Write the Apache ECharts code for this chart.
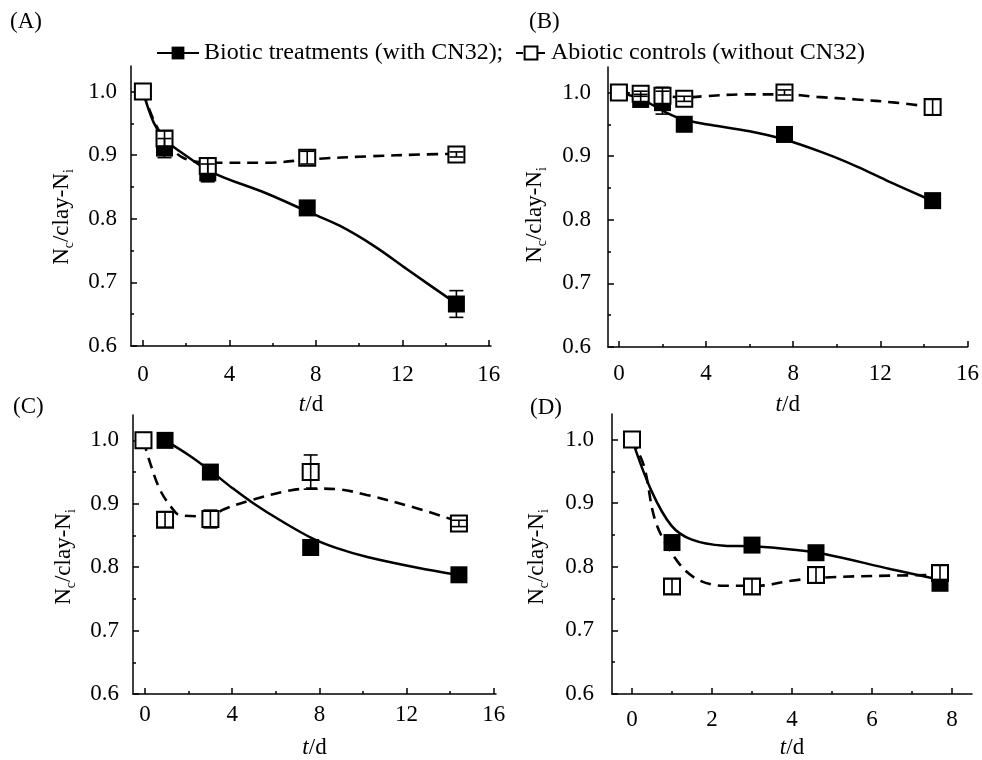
<!DOCTYPE html>
<html>
<head>
<meta charset="utf-8">
<script src="https://cdn.jsdelivr.net/npm/echarts@6/dist/echarts.min.js"></script>
<style>html,body{margin:0;padding:0;background:#fff}#c{width:982px;height:760px}</style>
</head>
<body>
<div id="c"></div>
<script>
// ---------- tick labels ----------
const xTicks16 = [0, 4, 8, 12, 16];
const xMinor16 = [2, 6, 10, 14];
const xTicks8 = [0, 2, 4, 6, 8];
const xMinor8 = [1, 3, 5, 7];
const yTicks = [0.6, 0.7, 0.8, 0.9, 1.0];
const yMinor = [0.65, 0.75, 0.85, 0.95];
const panelLabels = ['(A)', '(B)', '(C)', '(D)'];
const legendNames = ['Biotic treatments (with CN32);', 'Abiotic controls (without CN32)'];

// ---------- panel A ----------
const tA = [0, 1, 3, 7.6, 14.5];
const bioA = [1.0, 0.911, 0.872, 0.817, 0.666];
const bioAErr = [0, 0.015, 0.014, 0.008, 0.021];
const abioA = [1.0, 0.926, 0.883, 0.896, 0.901];
const abioAErr = [0, 0.012, 0.012, 0.01, 0.004];
const fitBioA = [[0,1.0],[0.5,0.951],[1,0.925],[1.7,0.906],[3.2,0.873],[5.7,0.84],[7.7,0.81],[9.1,0.789],[10.7,0.757],[12.2,0.721],[14.1,0.676],[14.5,0.667]];
const fitAbioA = [[0,1.0],[0.5,0.955],[1,0.925],[1.9,0.895],[3.4,0.888],[5.7,0.888],[8,0.894],[10.4,0.898],[13,0.901],[14.5,0.902]];

// ---------- panel B ----------
const tB = [0, 1, 2, 3, 7.6, 14.4];
const bioB = [1.0, 0.989, 0.984, 0.95, 0.934, 0.83];
const bioBErr = [0, 0.008, 0.018, 0.008, 0.006, 0.008];
const abioB = [1.0, 0.998, 0.995, 0.99, 1.0, 0.977];
const abioBErr = [0, 0.004, 0.013, 0.004, 0.004, 0.012];
const fitBioB = [[0,1.0],[1,0.99],[2.2,0.968],[3,0.957],[4,0.95],[6,0.939],[7.6,0.926],[9.4,0.905],[10.9,0.884],[12.4,0.86],[14.3,0.831]];
const fitAbioB = [[0,1.0],[2,0.995],[3,0.992],[3.9,0.994],[5.7,0.997],[7.6,0.997],[9.1,0.993],[10.9,0.989],[12.7,0.984],[14.4,0.977]];

// ---------- panel C ----------
const tC = [-0.07, 0.92, 3, 7.6, 14.4];
const bioC = [1.0, 1.0, 0.95, 0.831, 0.788];
const bioCErr = [0, 0.005, 0.008, 0.01, 0.006];
const abioC = [1.0, 0.875, 0.876, 0.95, 0.869];
const abioCErr = [0, 0.012, 0.014, 0.027, 0.005];
const fitBioC = [[0.92,1.0],[2,0.977],[3,0.952],[4,0.925],[5,0.9],[6.2,0.874],[7.7,0.845],[8.8,0.83],[10.2,0.816],[12.5,0.799],[14.3,0.788]];
const fitAbioC = [[-0.07,1.0],[0.23,0.965],[0.69,0.922],[1.22,0.894],[1.6,0.882],[3,0.88],[3.6,0.891],[4.8,0.905],[6.65,0.921],[7.6,0.924],[8.8,0.923],[10.17,0.914],[12.46,0.893],[14.37,0.872]];

// ---------- panel D ----------
const tD = [0, 1, 3, 4.6, 7.7];
const bioD = [1.0, 0.838, 0.834, 0.822, 0.774];
const bioDErr = [0, 0.008, 0.006, 0.006, 0.006];
const abioD = [1.0, 0.769, 0.769, 0.787, 0.79];
const abioDErr = [0, 0.012, 0.012, 0.012, 0.012];
const fitBioD = [[0,1.0],[0.48,0.92],[0.98,0.865],[1.48,0.843],[2.31,0.833],[3,0.832],[3.98,0.827],[4.81,0.82],[6.48,0.796],[7.81,0.778]];
const fitAbioD = [[0,1.0],[0.3,0.958],[0.6,0.869],[1.14,0.808],[1.64,0.78],[2.31,0.77],[3.14,0.77],[3.98,0.778],[4.8,0.783],[6.48,0.786],[7.73,0.787]];

// ---------- layout ----------
const FONT = 'Liberation Serif';
const FS = 23;
const panels = [
  {grid:{left:131, top:66, width:360, height:280}, xmin:-0.55, xmax:16.1, xt:xTicks16, xm:xMinor16, lblM:17, nameGap:47, ylblM:14,
   t:tA, bio:bioA, bioE:bioAErr, abio:abioA, abioE:abioAErr, fb:fitBioA, fa:fitAbioA, lab:[10,22], yname:[62,217]},
  {grid:{left:608, top:67, width:361, height:280}, xmin:-0.5, xmax:16, xt:xTicks16, xm:xMinor16, lblM:15, nameGap:46, ylblM:17,
   t:tB, bio:bioB, bioE:bioBErr, abio:abioB, abioE:abioBErr, fb:fitBioB, fa:fitAbioB, lab:[529,22], yname:[535,215]},
  {grid:{left:133, top:415, width:363, height:280}, xmin:-0.55, xmax:16.1, xt:xTicks16, xm:xMinor16, lblM:9, nameGap:42, ylblM:14,
   t:tC, bio:bioC, bioE:bioCErr, abio:abioC, abioE:abioCErr, fb:fitBioC, fa:fitAbioC, lab:[13,407], yname:[64,557]},
  {grid:{left:612, top:414, width:360, height:281}, xmin:-0.5, xmax:8.5, xt:xTicks8, xm:xMinor8, lblM:14, nameGap:42, ylblM:18,
   t:tD, bio:bioD, bioE:bioDErr, abio:abioD, abioE:abioDErr, fb:fitBioD, fa:fitAbioD, lab:[530,408], yname:[537,557]}
];

const axisLineStyle = {color:'#000', width:1.5};
const grids = [], xAxes = [], yAxes = [], series = [], graphics = [];

panels.forEach((p, g) => {
  grids.push(Object.assign({containLabel:false}, p.grid));
  xAxes.push({
    type:'value', gridIndex:g, min:p.xmin, max:p.xmax, position:'bottom',
    splitLine:{show:false},
    axisLine:{show:true, onZero:false, lineStyle:axisLineStyle},
    axisTick:{show:true, inside:true, length:6, customValues:p.xt, lineStyle:{color:'#000', width:1.5}},
    axisLabel:{show:true, customValues:p.xt, margin:p.lblM, color:'#000', fontSize:FS, fontFamily:FONT},
    name:'{i|t}/d', nameLocation:'middle', nameGap:p.nameGap,
    nameTextStyle:{color:'#000', fontSize:FS, fontFamily:FONT, rich:{i:{fontStyle:'italic', fontSize:FS, fontFamily:FONT, color:'#000'}}}
  });
  xAxes.push({
    type:'value', gridIndex:g, min:p.xmin, max:p.xmax, position:'bottom',
    splitLine:{show:false}, axisLine:{show:false, onZero:false},
    axisTick:{show:true, inside:true, length:3, customValues:p.xm, lineStyle:{color:'#000', width:1.5}},
    axisLabel:{show:false}
  });
  yAxes.push({
    type:'value', gridIndex:g, min:0.6, max:1.04, position:'left',
    splitLine:{show:false},
    axisLine:{show:true, onZero:false, lineStyle:axisLineStyle},
    axisTick:{show:true, inside:true, length:6, customValues:yTicks, lineStyle:{color:'#000', width:1.5}},
    axisLabel:{show:true, customValues:yTicks, margin:p.ylblM, color:'#000', fontSize:FS, fontFamily:FONT,
      formatter:v => v.toFixed(1)}
  });
  yAxes.push({
    type:'value', gridIndex:g, min:0.6, max:1.04, position:'left',
    splitLine:{show:false}, axisLine:{show:false, onZero:false},
    axisTick:{show:true, inside:true, length:3, customValues:yMinor, lineStyle:{color:'#000', width:1.5}},
    axisLabel:{show:false}
  });

  const xi = 2*g, yi = 2*g;
  series.push({type:'line', xAxisIndex:xi, yAxisIndex:yi, data:p.fb, smooth:0.35, showSymbol:false, symbol:'none',
    silent:true, z:2, lineStyle:{color:'#000', width:2.5}});
  series.push({type:'line', xAxisIndex:xi, yAxisIndex:yi, data:p.fa, smooth:0.35, showSymbol:false, symbol:'none',
    silent:true, z:2, lineStyle:{color:'#000', width:2.6, type:[11,7]}});
  series.push({type:'scatter', xAxisIndex:xi, yAxisIndex:yi, symbol:'rect', symbolSize:17, silent:true, z:3,
    data:p.t.map((x,i)=>[x, p.bio[i]]), itemStyle:{color:'#000', opacity:1}});
  series.push({type:'scatter', xAxisIndex:xi, yAxisIndex:yi, symbol:'rect', symbolSize:16, silent:true, z:4,
    data:p.t.map((x,i)=>[x, p.abio[i]]), itemStyle:{color:'#fff', borderColor:'#000', borderWidth:2, opacity:1}});
  const errRender = (params, api) => {
    const x = api.value(0), y = api.value(1), e = api.value(2);
    if (!e) return null;
    const top = api.coord([x, y + e]), bot = api.coord([x, y - e]);
    const w = 7, st = {stroke:'#000', lineWidth:1.6};
    return {type:'group', children:[
      {type:'line', shape:{x1:top[0], y1:top[1], x2:bot[0], y2:bot[1]}, style:st},
      {type:'line', shape:{x1:top[0]-w, y1:top[1], x2:top[0]+w, y2:top[1]}, style:st},
      {type:'line', shape:{x1:bot[0]-w, y1:bot[1], x2:bot[0]+w, y2:bot[1]}, style:st}
    ]};
  };
  series.push({type:'custom', xAxisIndex:xi, yAxisIndex:yi, silent:true, z:5, renderItem:errRender,
    data:p.t.map((x,i)=>[x, p.bio[i], p.bioE[i]])});
  series.push({type:'custom', xAxisIndex:xi, yAxisIndex:yi, silent:true, z:5, renderItem:errRender,
    data:p.t.map((x,i)=>[x, p.abio[i], p.abioE[i]])});

  graphics.push({type:'text', x:p.lab[0], y:p.lab[1], style:{text:panelLabels[g], fill:'#000',
    font:FS + 'px "' + FONT + '"', verticalAlign:'middle', align:'left'}});
  graphics.push({type:'text', x:p.yname[0], y:p.yname[1], rotation:Math.PI/2, style:{
    text:'{m|N}{s|c}{m|/clay-N}{s|i}', align:'center', verticalAlign:'middle', fill:'#000',
    rich:{m:{fontSize:FS, fontFamily:FONT, lineHeight:28, fill:'#000'},
          s:{fontSize:14, fontFamily:FONT, lineHeight:14, verticalAlign:'bottom', fill:'#000'}}}});
});

// legend-only series
series.push({type:'line', name:legendNames[0], xAxisIndex:0, yAxisIndex:0, data:[], symbol:'rect', symbolSize:13,
  itemStyle:{color:'#000'}, lineStyle:{color:'#000', width:2}});
series.push({type:'line', name:legendNames[1], xAxisIndex:0, yAxisIndex:0, data:[], symbol:'rect', symbolSize:13,
  itemStyle:{color:'#fff', borderColor:'#000', borderWidth:1.6}, lineStyle:{color:'#000', width:2}});

const legendText = {color:'#000', fontSize:24, fontFamily:FONT};
const option = {
  backgroundColor:'#fff',
  animation:false,
  grid:grids, xAxis:xAxes, yAxis:yAxes, series:series,
  legend:[
    {data:[legendNames[0]], left:156, top:41, padding:0, itemWidth:42, itemHeight:16, itemGap:0, textStyle:legendText,
      selectedMode:false, lineStyle:{color:'#000', width:2, type:'solid'}},
    {data:[legendNames[1]], left:515, top:41, padding:0, itemWidth:30, itemHeight:16, itemGap:0, textStyle:legendText,
      selectedMode:false, lineStyle:{color:'#000', width:2, type:[7,15]}}
  ],
  graphic:graphics
};
const chart = echarts.init(document.getElementById('c'), null, {renderer:'canvas'});
chart.setOption(option);
</script>
</body>
</html>
